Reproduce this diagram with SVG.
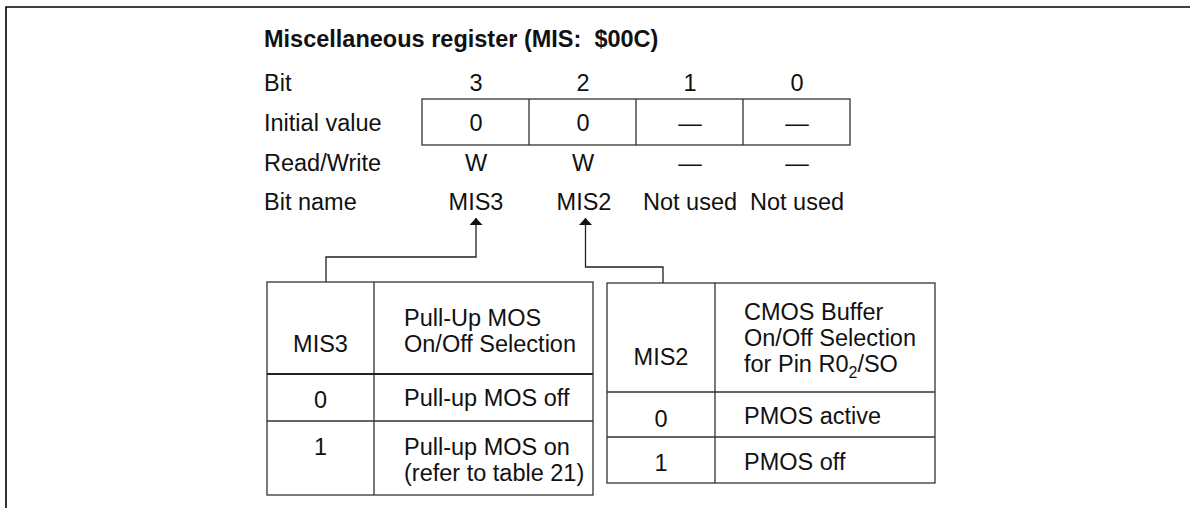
<svg xmlns="http://www.w3.org/2000/svg" width="1190" height="508" viewBox="0 0 1190 508">
<style>
text{font-family:"Liberation Sans",Arial,Helvetica,sans-serif;font-size:23.5px;fill:#111}
.b{font-weight:bold;font-size:23.5px;white-space:pre}
.c{text-anchor:middle}
.frame{fill:none;stroke:#000;stroke-width:1.6}
.cell{fill:none;stroke:#333;stroke-width:1.3}
.hd{fill:none;stroke:#222;stroke-width:1.8}
.con{fill:none;stroke:#222;stroke-width:1.3}
</style>
<defs>
<marker id="ah" viewBox="0 0 10 10" refX="10" refY="5" markerWidth="7" markerHeight="13" markerUnits="userSpaceOnUse" orient="auto" preserveAspectRatio="none">
<path d="M0,0 L10,5 L0,10 Z" fill="#111"/>
</marker>
</defs>
<rect width="1190" height="508" fill="#fff"/>
<path class="frame" d="M6,508 V7 H1190"/>

<g id="title"><text class="b" x="264" y="47" xml:space="preserve">Miscellaneous register (MIS:  $00C)</text></g>

<g id="register">
<text x="264" y="91">Bit</text>
<text x="264" y="131">Initial value</text>
<text x="264" y="171">Read/Write</text>
<text x="264" y="210">Bit name</text>
<text class="c" x="476" y="91">3</text>
<text class="c" x="583" y="91">2</text>
<text class="c" x="690" y="91">1</text>
<text class="c" x="797" y="91">0</text>
<rect class="cell" x="422" y="99" width="428" height="46"/>
<path class="cell" d="M529,99 V145 M636,99 V145 M743,99 V145"/>
<text class="c" x="476" y="131">0</text>
<text class="c" x="583" y="131">0</text>
<text class="c" x="690" y="131">—</text>
<text class="c" x="797" y="131">—</text>
<text class="c" x="476" y="171">W</text>
<text class="c" x="583" y="171">W</text>
<text class="c" x="690" y="171">—</text>
<text class="c" x="797" y="171">—</text>
<text class="c" x="476" y="210">MIS3</text>
<text class="c" x="584" y="210">MIS2</text>
<text class="c" x="690" y="210">Not used</text>
<text class="c" x="797" y="210">Not used</text>
</g>

<g id="connectors">
<path class="con" d="M326,282 V257 H476 V218" marker-end="url(#ah)"/>
<path class="con" d="M663,283 V267 H585.5 V218" marker-end="url(#ah)"/>
</g>

<g id="mis3-table">
<rect class="cell" x="267" y="282" width="326" height="213"/>
<path class="cell" d="M374,282 V495 M267,421 H593"/>
<path class="hd" d="M267,374 H593"/>
<text class="c" x="320.5" y="352">MIS3</text>
<text x="404" y="326">Pull-Up MOS</text>
<text x="404" y="352">On/Off Selection</text>
<text class="c" x="320.5" y="408">0</text>
<text x="404" y="406">Pull-up MOS off</text>
<text class="c" x="320.5" y="455">1</text>
<text x="404" y="455">Pull-up MOS on</text>
<text x="404" y="481">(refer to table 21)</text>
</g>

<g id="mis2-table">
<rect class="cell" x="607" y="283" width="328" height="200"/>
<path class="cell" d="M715,283 V483 M607,392 H935 M607,437 H935"/>
<text class="c" x="661" y="365">MIS2</text>
<text x="744" y="320">CMOS Buffer</text>
<text x="744" y="346">On/Off Selection</text>
<text x="744" y="372">for Pin R0<tspan font-size="16" dy="6">2</tspan><tspan dy="-6">/SO</tspan></text>
<text class="c" x="661" y="427">0</text>
<text x="744" y="424">PMOS active</text>
<text class="c" x="661" y="471">1</text>
<text x="744" y="470">PMOS off</text>
</g>
</svg>
